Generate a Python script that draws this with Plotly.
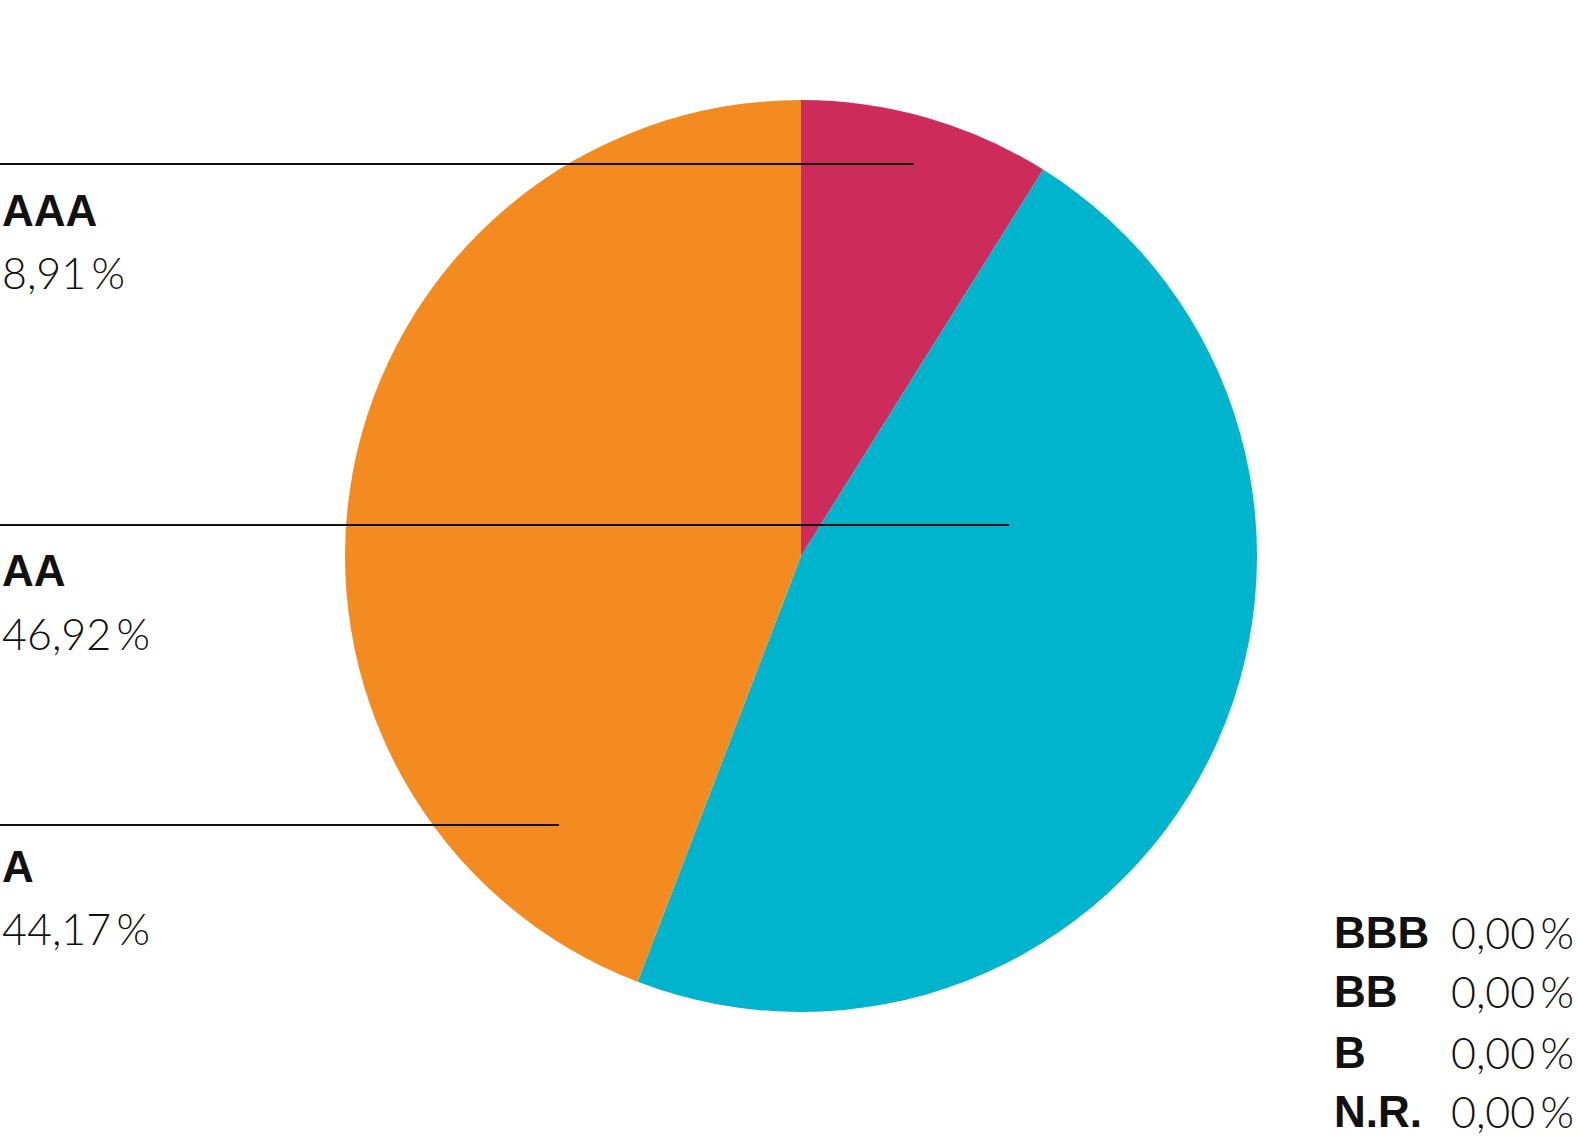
import plotly.graph_objects as go

categories = ["AAA", "AA", "A", "BBB", "BB", "B", "N.R."]
values = [8.91, 46.92, 44.17, 0.00, 0.00, 0.00, 0.00]
value_labels = ["8,91\u2009%", "46,92\u2009%", "44,17\u2009%", "0,00\u2009%", "0,00\u2009%", "0,00\u2009%", "0,00\u2009%"]
colors = ["#CD2C5B", "#00B4CE", "#F48B20", "#999999", "#999999", "#999999", "#999999"]

W, H = 1580, 1136
cx, cy, r = 801, 556, 456

fig = go.Figure(go.Pie(
    labels=categories, values=values, sort=False, direction="clockwise", rotation=0,
    marker=dict(colors=colors, line=dict(width=0)), textinfo="none", hoverinfo="skip",
    showlegend=False,
    domain=dict(x=[(cx - r) / W, (cx + r) / W], y=[1 - (cy + r) / H, 1 - (cy - r) / H]),
))

# left callouts for the three non-zero classes
left_rows = [  # (line y, line end x, label y, value y)
    (164, 914, 210, 272),
    (525, 1009, 570, 633),
    (825, 559, 866, 928),
]
shapes = []
annotations = []
bold = dict(family="Liberation Sans, Arial, sans-serif", size=44, color="#111111", weight="bold")
light = dict(family="Lato, Open Sans, sans-serif", size=43, color="#111111", weight=300)
for i, (ly, lx, ty, vy) in enumerate(left_rows):
    shapes.append(dict(type="line", xref="paper", yref="paper", x0=0, x1=lx / W,
                       y0=1 - ly / H, y1=1 - ly / H, line=dict(color="#111111", width=2), layer="above"))
    annotations.append(dict(text=categories[i], x=0, y=1 - ty / H, xref="paper", yref="paper",
                            xanchor="left", yanchor="middle", showarrow=False, font=bold))
    annotations.append(dict(text=value_labels[i], x=0, y=1 - vy / H, xref="paper", yref="paper",
                            xanchor="left", yanchor="middle", showarrow=False, font=light))

right_y = [932, 992, 1052, 1111]
for j, yy in enumerate(right_y):
    k = 3 + j
    annotations.append(dict(text=categories[k], x=1332 / W, y=1 - yy / H, xref="paper", yref="paper",
                            xanchor="left", yanchor="middle", showarrow=False, font=bold))
    annotations.append(dict(text=value_labels[k], x=1449 / W, y=1 - yy / H, xref="paper", yref="paper",
                            xanchor="left", yanchor="middle", showarrow=False, font=light))

fig.update_layout(width=W, height=H, margin=dict(l=0, r=0, t=0, b=0),
                  paper_bgcolor="white", plot_bgcolor="white",
                  shapes=shapes, annotations=annotations)
fig.write_html("out.html", config={"displayModeBar": False},
               post_script="document.body.style.margin='0';document.body.style.overflow='hidden';")
